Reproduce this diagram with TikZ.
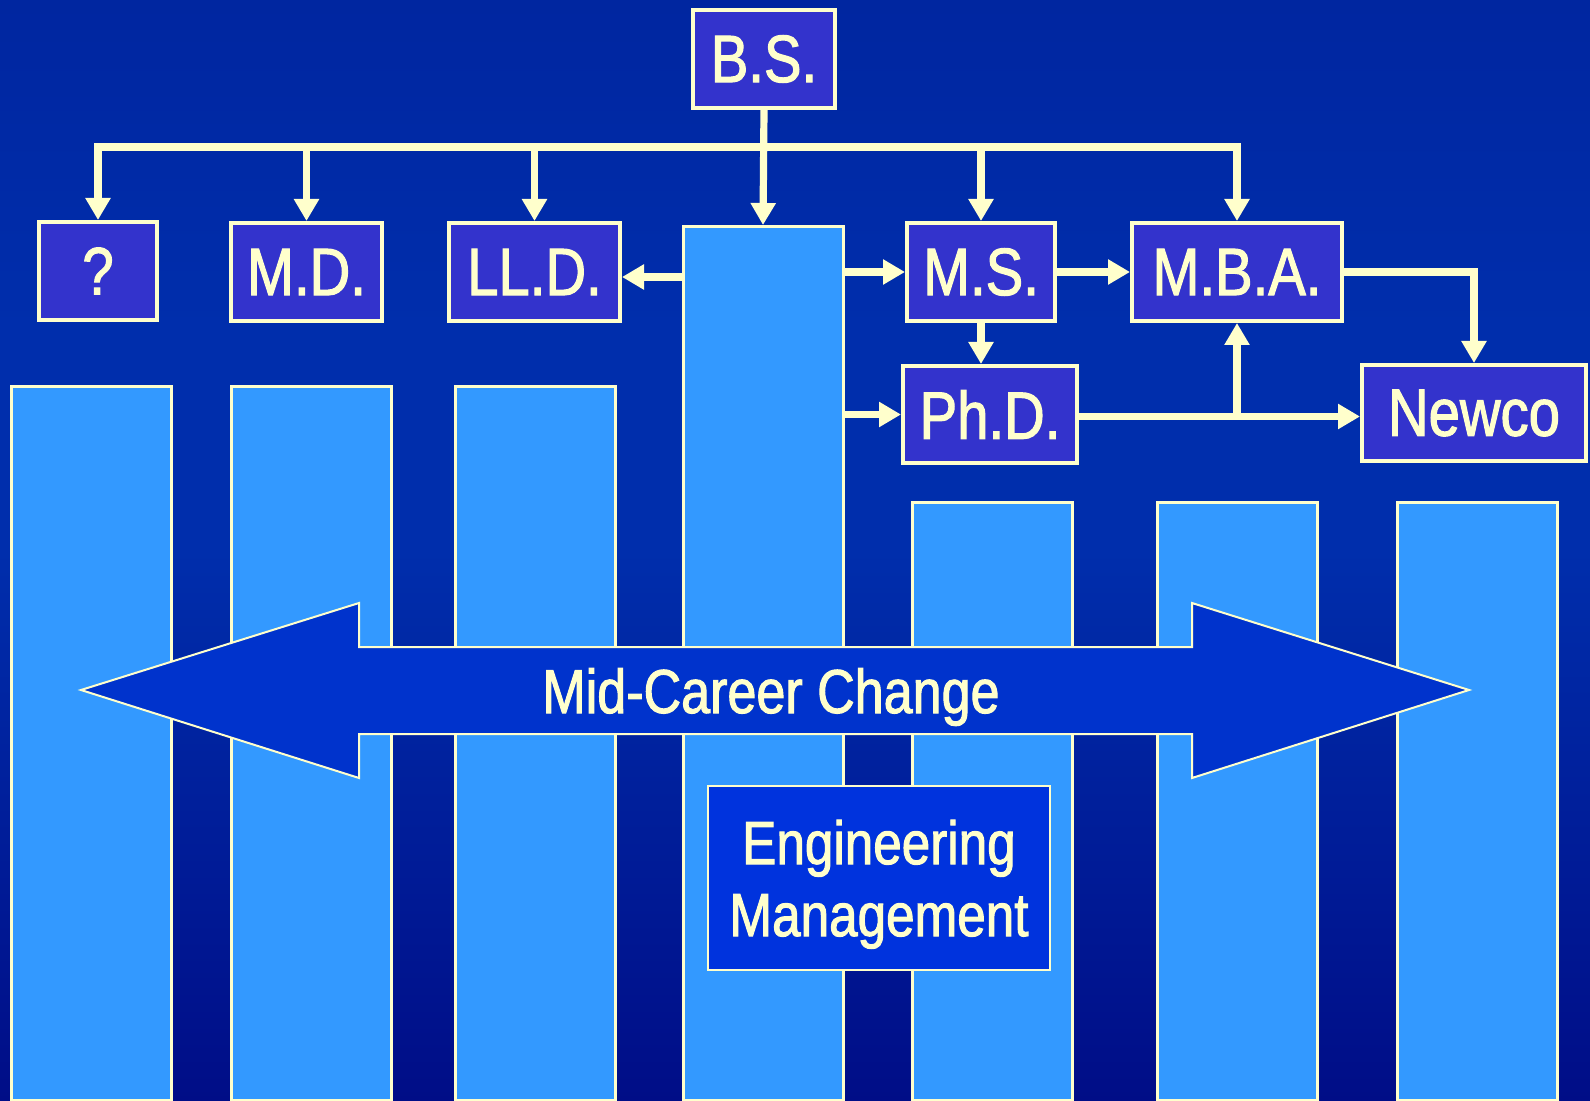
\documentclass[tikz,border=0pt]{standalone}
\usepackage{fontspec}
\newfontfamily\labelfont{Liberation Sans}[FakeStretch=0.84, FakeBold=1.6]
\usetikzlibrary{arrows.meta}

\definecolor{ink}{HTML}{FFFFCC}
\definecolor{boxfill}{HTML}{3333CC}
\definecolor{barfill}{HTML}{3399FF}
\definecolor{bandfill}{HTML}{0033CC}
\definecolor{engfill}{HTML}{0033DD}
\definecolor{bgtop}{HTML}{00188C}
\definecolor{bgmid}{HTML}{002EAC}
\definecolor{bglow}{HTML}{000078}
\definecolor{bgbot}{HTML}{000070}

\pgfdeclareverticalshading{slidebg}{100bp}{%
  color(0bp)=(bgbot); color(15bp)=(bglow); color(50bp)=(bgmid);
  color(60bp)=(bgmid); color(100bp)=(bgtop)}

\tikzset{
  degree/.style={draw=ink, line width=2pt, fill=boxfill, text=ink,
    font=\labelfont\fontsize{33.5}{38}\selectfont, inner sep=0pt,
    minimum height=49pt},
  column/.style={draw=ink, line width=1.5pt, fill=barfill, inner sep=0pt,
    anchor=north, minimum width=80pt},
  wire/.style={draw=ink, line width=3.6pt, line join=miter},
  tip/.style={-{Triangle[width=12pt,length=11pt]}},
  band/.style={draw=ink, line width=1pt, fill=bandfill},
}

\begin{document}
\begin{tikzpicture}[x=0.5pt, y=-0.5pt]
\useasboundingbox (0,0) rectangle (1590,1101);
\shade[shading=slidebg] (0,0) rectangle (1590,1101);

% columns
\node[column, minimum height=357pt] (bar1) at (91.5,385) {};
\node[column, minimum height=357pt] (bar2) at (311.5,385) {};
\node[column, minimum height=357pt] (bar3) at (535.5,385) {};
\node[column, minimum height=437pt] (bar4) at (763,225) {};
\node[column, minimum height=299pt] (bar5) at (992,501) {};
\node[column, minimum height=299pt] (bar6) at (1237,501) {};
\node[column, minimum height=299pt] (bar7) at (1477.5,501) {};

% double-headed band across the columns
\draw[band] (81,690) -- (359,603) -- (359,647) -- (1192,647) -- (1192,603)
  -- (1469,690) -- (1192,778) -- (1192,734) -- (359,734) -- (359,778) -- cycle;
\node[text=ink, font=\labelfont\fontsize{31}{36}\selectfont,
  anchor=base, inner sep=0pt] (shift) at (771,713) {Mid-Career Change};

% engineering management box
\node[draw=ink, line width=1pt, fill=engfill, text=ink, inner sep=0pt,
  minimum width=171pt, minimum height=92pt, align=center, text depth=0pt,
  font=\labelfont\fontsize{30.5}{36}\selectfont]
  (eng) at (879,878) {Engineering\\Management};

% degree boxes
\node[degree, minimum width=71pt] (bs) at (764,59) {B.S.};
\node[degree, minimum width=59pt] (q) at (98,271) {?};
\node[degree, minimum width=75.5pt] (md) at (306.5,272) {M.D.};
\node[degree, minimum width=85.5pt] (lld) at (534.5,272) {LL.D.};
\node[degree, minimum width=74pt] (ms) at (981,272) {M.S.};
\node[degree, minimum width=105pt] (mba) at (1237,272) {M.B.A.};
\node[degree, minimum width=87pt, minimum height=48.5pt] (phd) at (990,414.5) {Ph.D.};
\node[degree, minimum width=112pt, minimum height=48pt] (newco) at (1474,413) {Newco};

\coordinate (bus) at (764,147);

% branches from B.S.
\draw[wire, {Triangle[width=12pt,length=11pt]}-{Triangle[width=12pt,length=11pt]}]
  (q.north) |- (mba.north |- bus) -- (mba.north);
\draw[wire, tip] (md.north |- bus) -- (md.north);
\draw[wire, tip] (lld.north |- bus) -- (lld.north);
\draw[wire, tip] (ms.north |- bus) -- (ms.north);
\draw[wire, tip] (bs.south) -- (bar4.north);

% links out of the engineering column
\draw[wire, tip] ([yshift=-2.5pt]lld.east -| bar4.west) -- ([yshift=-2.5pt]lld.east);
\draw[wire, tip] (ms.west -| bar4.east) -- (ms.west);
\draw[wire, tip] (phd.west -| bar4.east) -- (phd.west);

% links between degrees
\draw[wire, tip] (ms.east) -- (mba.west);
\draw[wire, tip] (ms.south) -- (ms.south |- phd.north);
\draw[wire, tip] ([yshift=-1pt]phd.east) -- ([yshift=-1pt]phd.east -| newco.west);
\draw[wire, tip] ([yshift=-1pt]phd.east -| mba.south) -- (mba.south);
\draw[wire, tip] (mba.east) -| (newco.north);
\end{tikzpicture}
\end{document}
